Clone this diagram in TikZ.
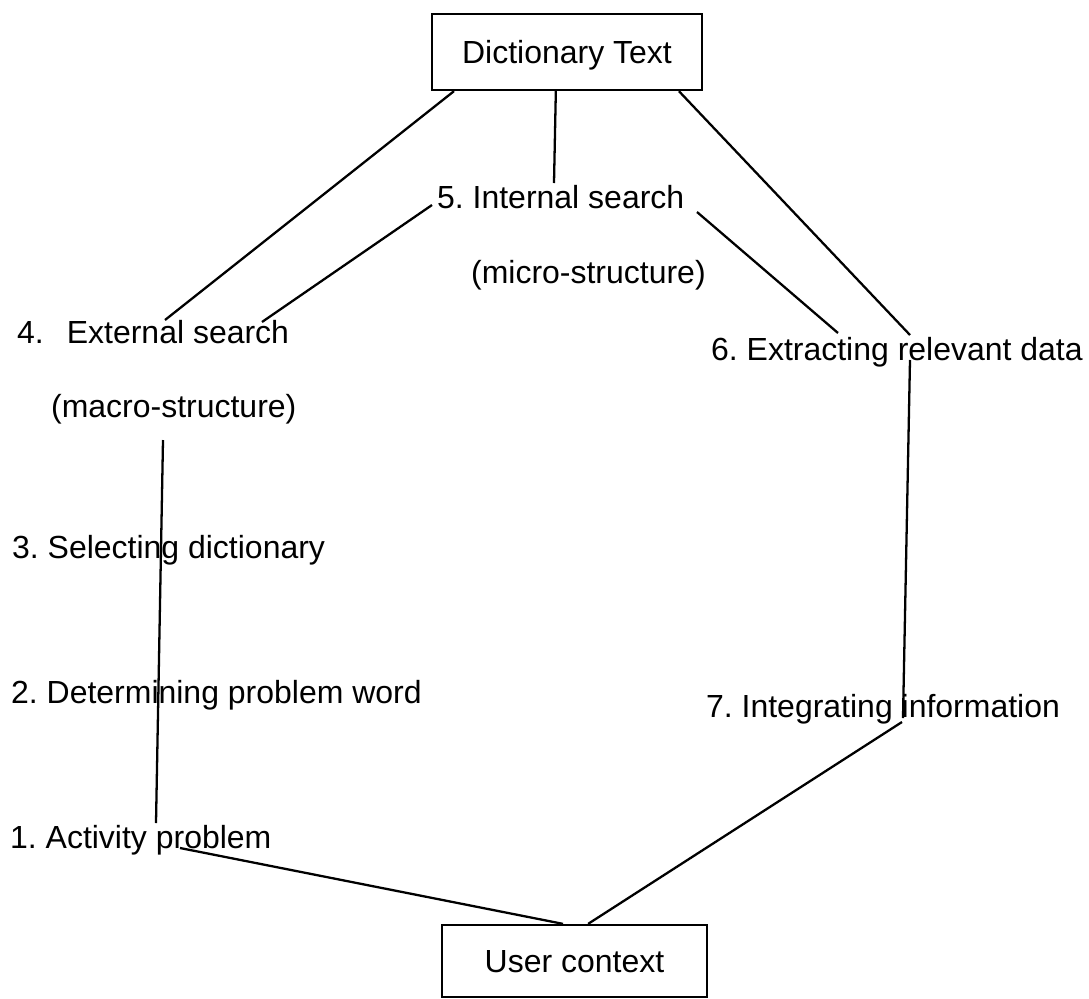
\documentclass[tikz,border=0pt]{standalone}
\usepackage{fontspec}
\setmainfont{Liberation Sans}
\usepackage{tikz}
\usetikzlibrary{calc}
\frenchspacing

\begin{document}
\begin{tikzpicture}[x=0.2mm,y=-0.2mm,line width=1.3pt,
		font=\fontsize{18.2}{22}\selectfont,
		stage/.style={anchor=base west,inner sep=0pt},
		frame/.style={draw,text height=13.3pt,text depth=0pt}]
							\useasboundingbox (0,0) rectangle (1089,998);

							\node[frame,minimum width=54mm,minimum height=15.2mm] (dict) at (567,52) {Dictionary Text};
							\node[frame,minimum width=53mm,minimum height=14.4mm] (user) at (574.5,961) {User context};

							\node[stage] (s1) at (9,848) {1. Activity problem};
							\node[stage] (s2) at (10,703) {2. Determining problem word};
							\node[stage] (s3) at (11,558) {3. Selecting dictionary};
							\node[stage] (s4) at (16,343) {4.\hspace{0.72em}External search};
							\node[stage] (s4b) at (50,417) {(macro-structure)};
							\node[stage] (s5) at (436,208) {5. Internal search};
							\node[stage] (s5b) at (470,283) {(micro-structure)};
							\node[stage] (s6) at (710,360) {6. Extracting relevant data};
							\node[stage] (s7) at (705,717) {7. Integrating information};

							\coordinate (d1) at ($(dict.south west)!0.085!(dict.south east)$);
							\coordinate (d2) at ($(dict.south west)!0.459!(dict.south east)$);
							\coordinate (d3) at ($(dict.south west)!0.911!(dict.south east)$);
							\coordinate (u1) at ($(user.north west)!0.457!(user.north east)$);
							\coordinate (u2) at ($(user.north west)!0.551!(user.north east)$);

							\coordinate (e4) at ($(s4.base west)+(149,-23)$);
							\coordinate (w4) at ($(s4.base west)+(246,-21)$);
							\coordinate (b4) at ($(s4b.base west)+(113,23)$);
							\coordinate (t5) at ($(s5.base west)+(118,-25)$);
							\coordinate (w5) at ($(s5.base west)+(-4,-3)$);
							\coordinate (e5) at ($(s5.base west)+(261,4)$);
							\coordinate (w6) at ($(s6.base west)+(128,-27)$);
							\coordinate (e6) at ($(s6.base west)+(200,-25)$);
							\coordinate (b6) at ($(s6.base west)+(200,0)$);
							\coordinate (t7) at ($(s7.base west)+(198,1)$);
							\coordinate (b7) at ($(s7.base west)+(197,5)$);
							\coordinate (t1) at ($(s1.base west)+(147,-25)$);
							\coordinate (b1) at ($(s1.base west)+(171,0)$);

							\draw (d1) -- (e4);
							\draw (d2) -- (t5);
							\draw (d3) -- (e6);
							\draw (w5) -- (w4);
							\draw (e5) -- (w6);
							\draw (b4) -- (t1);
							\draw (b6) -- (t7);
							\draw (b1) -- (u1);
							\draw (u2) -- (b7);

						\end{tikzpicture}
\end{document}
